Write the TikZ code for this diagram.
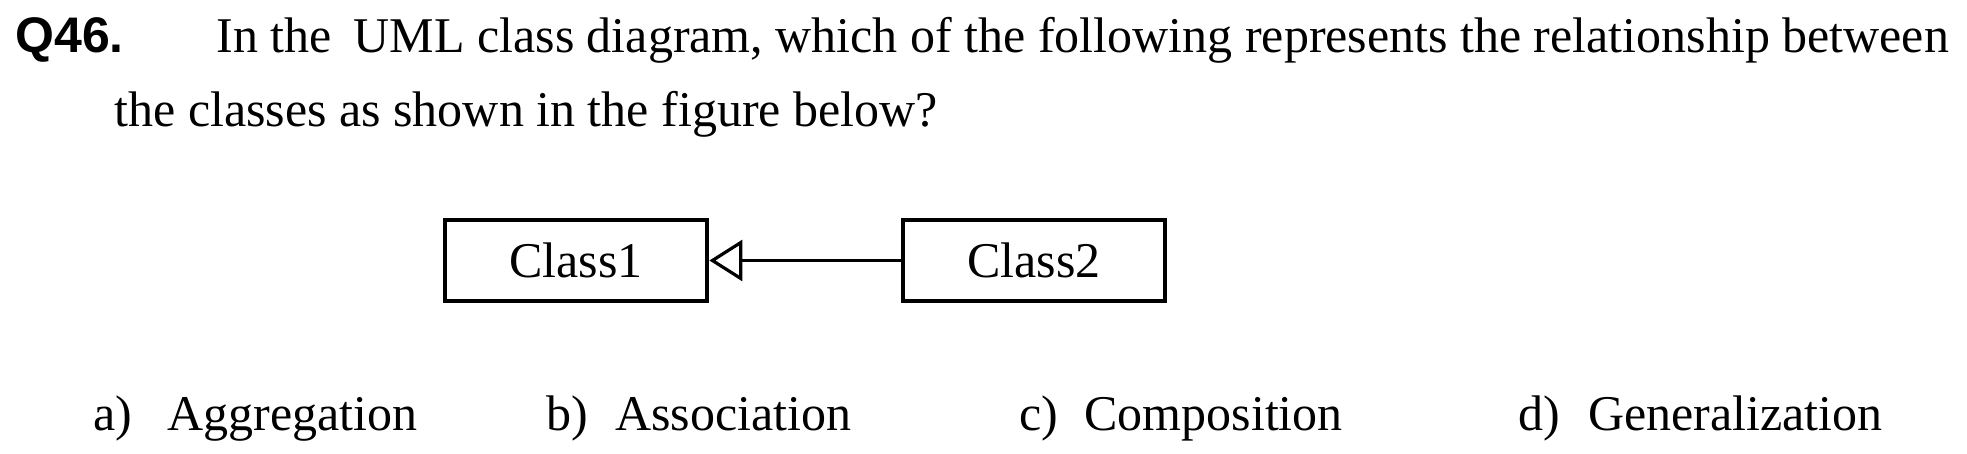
\documentclass[tikz,border=0pt]{standalone}
\usepackage{fontspec}
\setmainfont{Liberation Serif}
\newfontfamily\qfont{Liberation Sans}
\usetikzlibrary{arrows.meta}
\begin{document}
\begin{tikzpicture}[x=0.5pt,y=-0.5pt,
  txt/.style={inner sep=0pt, anchor=base west, font=\fontsize{25}{30}\selectfont},
  qlabel/.style={inner sep=0pt, anchor=base west, font=\qfont\bfseries\fontsize{25}{30}\selectfont},
  classbox/.style={draw, line width=2.4pt, minimum width=131pt, minimum height=40.5pt, inner sep=0pt, font=\fontsize{25}{30}\selectfont},
  genarrow/.style={line width=1.6pt, -{Triangle[open, length=16.5pt, width=20.5pt]}}]
\useasboundingbox (0,0) rectangle (1967,454);
\node[qlabel] (q) at (15,53) {Q46.};
\node[txt] (l1) at (216,53) {In the\hspace{11pt}UML class diagram, which of the following represents the relationship between};
\node[txt] (l2) at (114,127) {the classes as shown in the figure below?};
\node[classbox] (c1) at (576,260.5) {Class1};
\node[classbox] (c2) at (1034,260.5) {Class2};
\draw[genarrow] (c2.west) -- (c1.east);
\node[txt] (a) at (93,430) {a)};
\node[txt] (aw) at (167,430) {Aggregation};
\node[txt] (b) at (546,430) {b)};
\node[txt] (bw) at (615,430) {Association};
\node[txt] (c) at (1019,430) {c)};
\node[txt] (cw) at (1084,430) {Composition};
\node[txt] (d) at (1518,430) {d)};
\node[txt] (dw) at (1588,430) {Generalization};
\end{tikzpicture}
\end{document}
